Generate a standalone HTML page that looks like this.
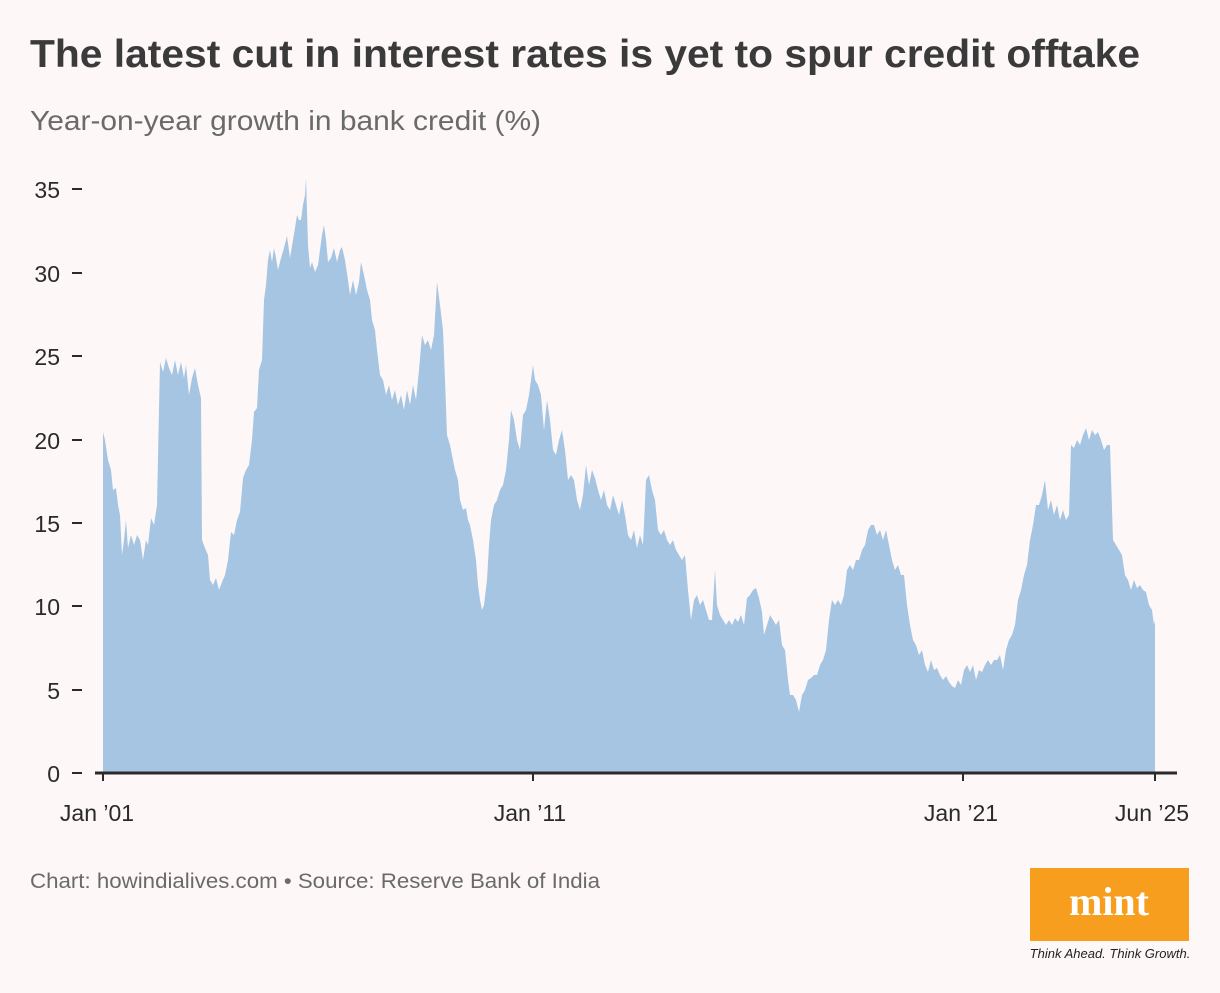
<!DOCTYPE html>
<html><head><meta charset="utf-8"><style>
body{margin:0;width:1220px;height:988px;background:#fdf8f7;overflow:hidden;font-family:"Liberation Sans",sans-serif;}
</style></head><body>
<svg width="1220" height="988" viewBox="0 0 1220 988" xmlns="http://www.w3.org/2000/svg">
<rect width="1220" height="988" fill="#fdf8f7"/>
<text x="30" y="67" font-size="39" font-weight="bold" fill="#3a3a3a" textLength="1110" lengthAdjust="spacingAndGlyphs">The latest cut in interest rates is yet to spur credit offtake</text>
<text x="30" y="130" font-size="28" fill="#6a6a6a" textLength="511" lengthAdjust="spacingAndGlyphs">Year-on-year growth in bank credit (%)</text>
<g font-size="23" fill="#2a2a2a" text-anchor="end">
<text x="60" y="198">35</text><text x="60" y="282">30</text><text x="60" y="365">25</text>
<text x="60" y="449">20</text><text x="60" y="532">15</text><text x="60" y="615">10</text>
<text x="60" y="699">5</text><text x="60" y="782">0</text>
</g>
<g stroke="#2a2a2a" stroke-width="2">
<line x1="72" x2="82" y1="189" y2="189"/><line x1="72" x2="82" y1="273" y2="273"/><line x1="72" x2="82" y1="356" y2="356"/><line x1="72" x2="82" y1="440" y2="440"/><line x1="72" x2="82" y1="523" y2="523"/><line x1="72" x2="82" y1="606" y2="606"/><line x1="72" x2="82" y1="690" y2="690"/><line x1="72" x2="82" y1="773" y2="773"/>
</g>
<polygon fill="#a6c5e3" points="103,773 103,432 105,440 108,460 111,470 113,490 116,488 118,505 120,515 122,555 124,540 126,520 128,548 131,535 134,545 137,535 140,540 143,560 146,540 148,545 151,518 154,525 157,505 160,362 163,372 166,358 169,368 172,375 175,360 178,375 181,362 184,378 186,365 189,395 192,378 195,368 198,385 201,398 202,540 205,548 208,555 210,580 213,585 216,578 219,590 222,582 225,575 228,560 231,532 234,535 237,520 240,512 243,478 246,470 249,465 252,440 254,412 257,408 259,370 262,360 264,300 266,285 268,260 270,250 272,262 274,248 276,258 278,270 281,258 284,248 287,236 290,258 293,240 295,228 297,215 299,220 301,220 303,205 305,195 306,178 308,245 310,268 312,262 315,272 318,265 320,250 322,235 324,225 326,240 328,262 331,258 334,248 337,262 340,250 342,247 345,260 348,280 350,295 353,280 356,295 359,282 361,262 364,275 367,290 370,300 372,320 375,330 377,350 380,375 383,380 386,395 389,385 392,400 395,390 398,405 401,395 404,410 407,390 410,405 413,385 416,400 419,370 422,335 425,345 428,340 431,350 434,335 437,282 440,305 443,330 445,380 447,435 450,445 453,460 455,470 458,480 460,500 463,510 466,508 468,520 470,525 473,540 476,560 478,585 480,600 482,610 484,605 487,580 489,545 491,520 494,505 497,500 500,490 503,485 506,470 509,440 511,410 514,420 517,440 520,450 523,415 526,410 529,395 531,380 533,365 535,380 538,385 541,395 544,430 547,400 550,420 553,450 556,455 559,440 562,430 565,450 568,480 571,475 574,480 577,500 580,510 583,495 586,465 589,485 592,470 595,478 598,490 601,500 604,490 607,505 610,510 613,495 616,505 619,515 622,500 625,515 628,535 631,540 634,530 637,548 640,535 643,545 646,480 649,475 652,490 655,500 658,530 661,535 664,530 667,540 670,545 673,540 676,550 679,555 682,560 685,555 688,590 691,620 694,600 697,595 700,605 703,600 706,610 709,620 712,620 715,570 717,605 720,615 723,620 726,625 729,620 732,625 735,618 738,622 741,615 744,625 747,598 750,595 753,590 756,588 759,598 762,612 764,635 767,625 770,615 773,620 776,625 779,620 782,645 785,650 788,680 790,695 793,695 796,700 799,712 802,695 805,690 808,680 811,678 814,675 817,675 820,665 823,660 826,650 829,620 832,600 835,605 838,600 841,605 844,595 847,570 850,565 853,570 856,560 859,560 862,550 865,545 868,530 871,525 874,525 877,535 880,530 883,540 886,530 889,545 892,560 895,570 898,565 901,575 904,575 907,605 910,625 913,640 916,645 919,655 922,650 925,665 928,672 931,660 934,670 937,668 940,675 943,680 946,676 949,682 952,686 955,688 958,680 961,685 964,670 967,665 970,672 973,665 976,680 979,670 982,672 985,665 988,660 991,665 994,660 997,660 1000,655 1003,670 1006,650 1009,640 1012,635 1015,625 1018,600 1021,590 1024,575 1027,565 1030,540 1033,525 1036,505 1039,505 1042,495 1045,480 1048,510 1051,500 1054,515 1057,505 1060,520 1063,510 1066,520 1069,515 1071,445 1074,448 1077,440 1080,445 1083,435 1086,428 1089,440 1092,430 1095,435 1098,432 1101,440 1104,450 1107,445 1110,445 1113,540 1116,545 1119,550 1122,555 1125,575 1128,580 1131,590 1134,580 1137,588 1140,585 1143,590 1146,592 1149,605 1152,610 1154,625 1155,620 1155,773"/>
<line x1="95" x2="1177" y1="773" y2="773" stroke="#2a2a2a" stroke-width="3"/>
<g stroke="#2a2a2a" stroke-width="2">
<line x1="103" x2="103" y1="773" y2="781"/><line x1="533" x2="533" y1="773" y2="781"/><line x1="963" x2="963" y1="773" y2="781"/><line x1="1155" x2="1155" y1="773" y2="781"/>
</g>
<g font-size="23" fill="#2a2a2a" text-anchor="middle">
<text x="97" y="821">Jan ’01</text><text x="530" y="821">Jan ’11</text><text x="961" y="821">Jan ’21</text><text x="1152" y="821">Jun ’25</text>
</g>
<text x="30" y="888" font-size="21" fill="#6a6a6a" textLength="570" lengthAdjust="spacingAndGlyphs">Chart: howindialives.com • Source: Reserve Bank of India</text>
<rect x="1030" y="868" width="159" height="73" fill="#f89e1f"/>
<text x="1109" y="915" font-size="40" font-weight="bold" fill="#fff" text-anchor="middle" font-family="Liberation Serif,serif">mint</text>
<text x="1110" y="958" font-size="13" font-style="italic" fill="#222" text-anchor="middle">Think Ahead. Think Growth.</text>
</svg>
</body></html>
